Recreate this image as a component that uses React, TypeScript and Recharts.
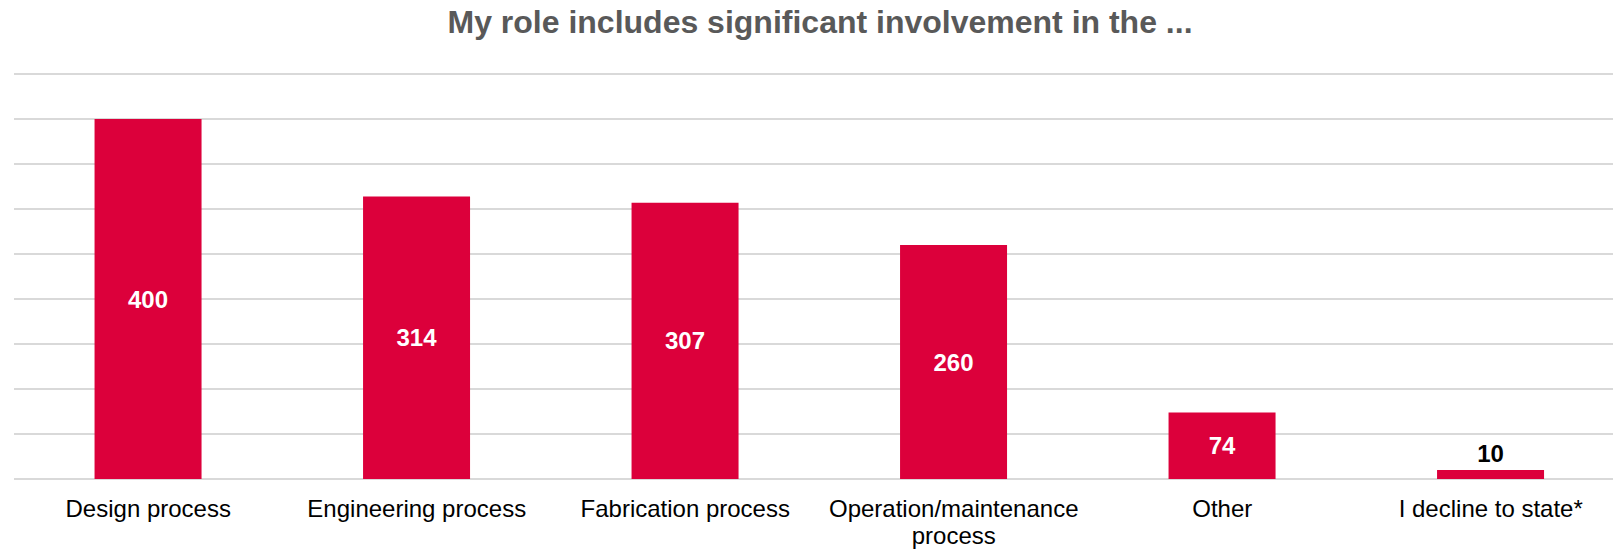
import React from 'react';
import { Bar, BarChart, CartesianGrid, LabelList, XAxis, YAxis } from 'recharts';

const categories = [
  'Design process',
  'Engineering process',
  'Fabrication process',
  'Operation/maintenance process',
  'Other',
  'I decline to state*',
];
const counts = [400, 314, 307, 260, 74, 10];
const yTicks = [0, 50, 100, 150, 200, 250, 300, 350, 400, 450];

const data = categories.map((name, i) => ({ name, count: counts[i] }));

const FONT = '"Liberation Sans", Arial, sans-serif';
const RED = '#dc003b';

// long labels wrap onto a second line at the last space
const splitLabel = (label: string): string[] => {
  if (label.length <= 22) return [label];
  const cut = label.lastIndexOf(' ');
  return [label.slice(0, cut), label.slice(cut + 1)];
};

const CategoryTick = (props: any) => {
  const { x, y, payload } = props;
  const lines = splitLabel(payload.value);
  return (
    <text x={x} y={y + 30} textAnchor="middle" fontSize={24} fontFamily={FONT} fill="#000000">
      {lines.map((line, i) => (
        <tspan key={i} x={x} dy={i === 0 ? 0 : 27}>
          {line}
        </tspan>
      ))}
    </text>
  );
};

const ValueLabel = (props: any) => {
  const { x, y, width, height, value } = props;
  const cx = x + width / 2;
  if (height < 30) {
    return (
      <text x={cx} y={y - 8} textAnchor="middle" fontSize={24} fontWeight="bold" fontFamily={FONT} fill="#000000">
        {value}
      </text>
    );
  }
  return (
    <text
      x={cx}
      y={y + height / 2}
      textAnchor="middle"
      dominantBaseline="central"
      fontSize={24}
      fontWeight="bold"
      fontFamily={FONT}
      fill="#ffffff"
    >
      {value}
    </text>
  );
};

export default function App() {
  return (
    <div style={{ position: 'absolute', left: 0, top: 0, width: 1613, height: 549, background: '#fff', fontFamily: FONT, overflow: 'hidden' }}>
      <div
        style={{
          position: 'absolute',
          left: 0,
          top: 6,
          width: 1640,
          textAlign: 'center',
          fontSize: 32,
          lineHeight: '32px',
          fontWeight: 'bold',
          color: '#595959',
        }}
      >
        My role includes significant involvement in the ...
      </div>
      <BarChart
        width={1613}
        height={549}
        data={data}
        margin={{ top: 74, right: -12, left: 14, bottom: 0 }}
        barCategoryGap="30%"
      >
        <CartesianGrid vertical={false} stroke="#d9d9d9" strokeWidth={2} />
        <YAxis hide domain={[0, 450]} ticks={yTicks} />
        <XAxis
          dataKey="name"
          axisLine={false}
          tickLine={false}
          height={70}
          interval={0}
          tick={<CategoryTick />}
        />
        <Bar dataKey="count" fill={RED} isAnimationActive={false}>
          <LabelList dataKey="count" content={<ValueLabel />} />
        </Bar>
      </BarChart>
    </div>
  );
}
